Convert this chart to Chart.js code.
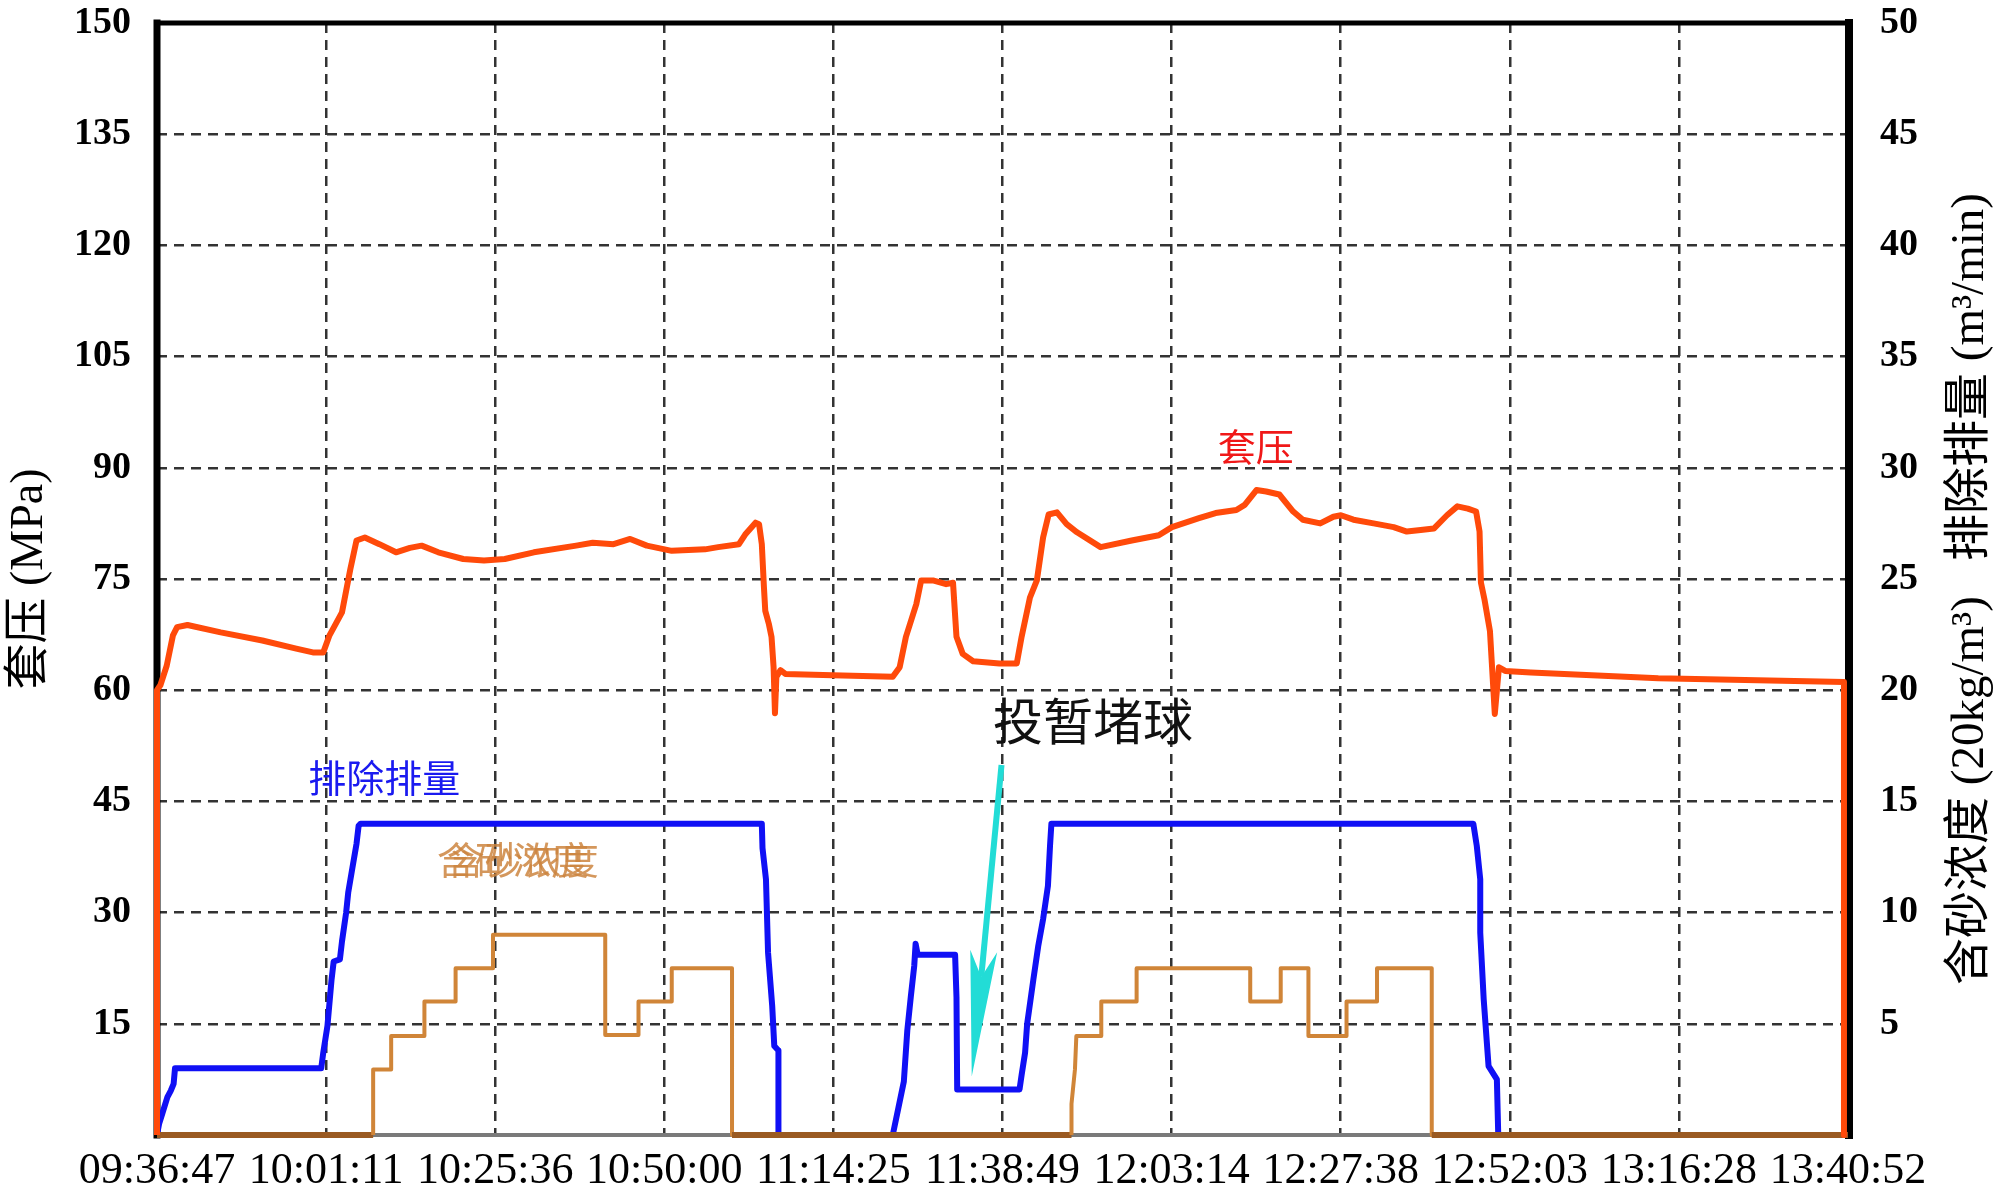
<!DOCTYPE html>
<html>
<head>
<meta charset="utf-8">
<script src="https://cdn.jsdelivr.net/npm/chart.js@4/dist/chart.umd.min.js"></script>
<style>
    body { margin: 0; background: #fff; }
    canvas { display: block; }
</style>
</head>
<body>
<canvas id="pressureChart" width="2000" height="1196"></canvas>
<script>
// x values are minutes after 09:36:47
const spanMinutes = 244.083;
const xTickLabels = ['09:36:47', '10:01:11', '10:25:36', '10:50:00', '11:14:25', '11:38:49',
    '12:03:14', '12:27:38', '12:52:03', '13:16:28', '13:40:52'];

// 套压 (MPa, left axis)
const pressureT = [0, 0, 0.5, 1.4, 2.3, 2.9, 4.4, 9.2, 15.2, 20.1, 22.5, 24.0, 24.9, 26.7, 27.9, 28.8,
    30.0, 32.1, 34.5, 36.5, 38.2, 40.6, 44.2, 47.2, 50.2, 54.4, 60.5, 62.9, 65.9, 68.3, 70.7, 74.3,
    79.1, 81.0, 84.0, 84.9, 86.4, 86.9, 87.3, 87.6, 87.8, 88.3, 88.7, 89.0, 89.2, 89.4, 90.0, 90.7,
    97.5, 106.2, 107.2, 108.1, 109.6, 110.3, 112.0, 113.9, 114.9, 115.4, 116.3, 117.8, 121.6, 124.1,
    124.8, 126.0, 127.0, 127.9, 128.7, 129.9, 131.3, 132.8, 136.2, 140.7, 144.6, 146.5, 150.4, 152.8,
    155.8, 157.0, 158.7, 160.1, 162.0, 164.0, 165.4, 167.9, 169.8, 170.9, 172.7, 175.6, 178.5, 180.4,
    182.4, 184.3, 186.2, 187.7, 189.2, 190.4, 190.9, 191.1, 191.6, 192.4, 193.1, 193.7, 194.6, 198.3,
    216.7, 243.5, 243.5];
const pressureV = [0, 60, 60.7, 63.3, 67.4, 68.5, 68.8, 67.8, 66.7, 65.6, 65.1, 65.1, 67.4, 70.5, 76.3, 80.2,
    80.6, 79.7, 78.6, 79.2, 79.5, 78.6, 77.7, 77.5, 77.7, 78.6, 79.5, 79.9, 79.7, 80.4, 79.5, 78.8,
    79.0, 79.3, 79.7, 81.0, 82.6, 82.4, 79.7, 74.0, 70.7, 69.0, 67.2, 63.1, 56.9, 61.8, 62.7, 62.2,
    62.0, 61.8, 63.1, 67.2, 71.6, 74.8, 74.8, 74.3, 74.5, 67.2, 64.9, 63.9, 63.6, 63.6,
    67.2, 72.5, 74.8, 80.6, 83.7, 84.0, 82.4, 81.3, 79.3, 80.2, 80.9, 82.0, 83.2, 83.9,
    84.3, 85.0, 87.0, 86.8, 86.4, 84.1, 83.0, 82.5, 83.4, 83.6, 83.0, 82.5, 82.0, 81.4,
    81.6, 81.8, 83.6, 84.8, 84.5, 84.1, 81.4, 74.5, 72.3, 68.0, 56.8, 63.1, 62.6, 62.4,
    61.6, 61.1, 0];

// 排除排量 (m³/min, right axis)
const rateT = [0, 0.3, 0.8, 1.5, 2.0, 2.4, 2.6, 23.7, 24.0, 24.6, 25.2, 25.5, 26.4, 26.7, 27.3, 27.6,
    28.2, 28.8, 29.1, 29.4, 87.3, 87.4, 87.9, 88.2, 88.8, 89.1, 89.7, 89.7, 106.2, 107.0, 107.8,
    108.3, 108.8, 109.3, 109.5, 109.8, 115.2, 115.4, 115.5, 124.5, 124.8, 125.3, 125.6, 126.5, 127.2,
    127.9, 128.6, 128.9, 129.1, 190.0, 190.5, 191.0, 191.0, 191.5, 192.2, 193.4, 193.6, 244.08];
const rateV = [0, 0.5, 1.0, 1.7, 2.0, 2.3, 3.0, 3.0, 3.7, 4.9, 7.0, 7.8, 7.9, 8.7, 10.0, 10.9,
    12.0, 13.1, 13.9, 14.0, 14.0, 12.9, 11.5, 8.2, 5.8, 4.0, 3.8, 0, 0, 1.2, 2.4,
    4.7, 6.2, 7.6, 8.6, 8.1, 8.1, 6.2, 2.05, 2.05, 2.7, 3.7, 5.0, 7.0, 8.5,
    9.7, 11.2, 13.0, 14.0, 14.0, 13.0, 11.5, 9.1, 6.1, 3.1, 2.5, 0, 0];

// 含砂浓度 (20kg/m³, right axis)
const sandT = [0, 31.2, 31.2, 33.8, 33.8, 38.6, 38.6, 43.1, 43.1, 48.5, 48.5, 64.7, 64.7, 69.5, 69.5,
    74.3, 74.3, 83.0, 83.0, 132.0, 132.0, 132.5, 132.7, 136.3, 136.3, 141.4, 141.4, 157.8, 157.8,
    162.2, 162.2, 166.2, 166.2, 171.7, 171.7, 176.1, 176.1, 184.0, 184.0, 244.08];
const sandV = [0, 0, 2.95, 2.95, 4.45, 4.45, 6.0, 6.0, 7.5, 7.5, 9.0, 9.0, 4.5, 4.5, 6.0,
    6.0, 7.5, 7.5, 0, 0, 1.4, 2.95, 4.45, 4.45, 6.0, 6.0, 7.5, 7.5, 6.0,
    6.0, 7.5, 7.5, 4.45, 4.45, 6.0, 6.0, 7.5, 7.5, 0, 0];

function toPoints(ts, vs) {
    return ts.map((t, i) => ({ x: t, y: vs[i] }));
}

// true when a segment lies on the zero line
const onZero = c => c.p0.parsed.y === 0 && c.p1.parsed.y === 0;

const serif = '"Liberation Serif", "Noto Sans CJK SC", serif';

// fixed box for a y axis, no extra room for the end labels
function fixYAxis(width) {
    return scale => {
        scale.width = width;
        scale.paddingTop = 0;
        scale.paddingBottom = 0;
    };
}

// frame around the plot area, drawn under the curves
const framePlugin = {
    id: 'frame',
    beforeDatasetsDraw(chart) {
        const { ctx, chartArea: a } = chart;
        ctx.save();
        ctx.lineCap = 'square';
        ctx.strokeStyle = '#7a7a7a';
        ctx.lineWidth = 4;
        ctx.beginPath(); ctx.moveTo(a.left, a.bottom); ctx.lineTo(a.right, a.bottom); ctx.stroke();
        ctx.strokeStyle = '#000';
        ctx.lineWidth = 5;
        ctx.beginPath(); ctx.moveTo(a.left, a.top); ctx.lineTo(a.right, a.top); ctx.stroke();
        ctx.lineWidth = 7;
        ctx.beginPath(); ctx.moveTo(a.left, a.top); ctx.lineTo(a.left, a.bottom); ctx.stroke();
        ctx.lineWidth = 8;
        ctx.beginPath(); ctx.moveTo(a.right + 1, a.top); ctx.lineTo(a.right + 1, a.bottom); ctx.stroke();
        ctx.restore();
    }
};

// curve labels, the arrow for 投暂堵球 and the right-hand axis title
const notesPlugin = {
    id: 'notes',
    afterDatasetsDraw(chart) {
        const { ctx, scales, chartArea: a } = chart;
        const px = t => scales.x.getPixelForValue(t);
        const py = v => scales.y.getPixelForValue(v);
        const label = (text, t, v, color, size) => {
            ctx.font = size + 'px "Noto Sans CJK SC"';
            ctx.fillStyle = color;
            ctx.textAlign = 'center';
            ctx.textBaseline = 'middle';
            ctx.fillText(text, px(t), py(v));
        };
        ctx.save();
        label('套压', 158.6, 92.9, '#f01818', 38);
        label('排除排量', 32.8, 48.2, '#1a1af0', 38);
        label('含砂浓度', 51.4, 37.1, 'rgba(205,133,63,0.85)', 38);
        label('含砂浓度', 52.8, 37.1, 'rgba(205,133,63,0.85)', 38);
        label('投暂堵球', 135.1, 55.8, '#111', 50);

        // arrow
        const x0 = px(121.9), y0 = py(49.9);
        const x1 = px(117.6), y1 = py(7.9);
        const len = Math.hypot(x1 - x0, y1 - y0);
        const ux = (x1 - x0) / len, uy = (y1 - y0) / len;
        const nx = -uy, ny = ux;
        const head = 126, half = 13.5, notch = 100;
        ctx.strokeStyle = '#22dcd6';
        ctx.fillStyle = '#22dcd6';
        ctx.lineWidth = 6;
        ctx.beginPath();
        ctx.moveTo(x0, y0);
        ctx.lineTo(x1 - ux * notch, y1 - uy * notch);
        ctx.stroke();
        ctx.beginPath();
        ctx.moveTo(x1, y1);
        ctx.lineTo(x1 - ux * head + nx * half, y1 - uy * head + ny * half);
        ctx.lineTo(x1 - ux * notch, y1 - uy * notch);
        ctx.lineTo(x1 - ux * head - nx * half, y1 - uy * head - ny * half);
        ctx.closePath();
        ctx.fill();

        // right axis title, reading bottom to top
        ctx.translate(1971, (a.top + a.bottom) / 2 + 10);
        ctx.rotate(-Math.PI / 2);
        ctx.font = '47px ' + serif;
        ctx.fillStyle = '#000';
        ctx.textAlign = 'center';
        ctx.textBaseline = 'middle';
        ctx.fillText('含砂浓度 (20kg/m³)   排除排量 (m³/min)', 0, 0);
        ctx.restore();
    }
};

const ctx = document.getElementById('pressureChart').getContext('2d');
const chart = new Chart(ctx, {
    type: 'line',
    data: {
        datasets: [
            {
                label: '套压',
                data: toPoints(pressureT, pressureV),
                yAxisID: 'y',
                borderColor: '#ff4a0a',
                borderWidth: 6,
                order: 1
            },
            {
                label: '含砂浓度',
                data: toPoints(sandT, sandV),
                yAxisID: 'y2',
                borderColor: '#d08538',
                borderWidth: 4,
                segment: {
                    borderWidth: c => onZero(c) ? 6 : 4,
                    borderColor: c => onZero(c) ? '#9a5a22' : '#d08538'
                },
                order: 2
            },
            {
                label: '排除排量',
                data: toPoints(rateT, rateV),
                yAxisID: 'y2',
                borderColor: '#1010f5',
                borderWidth: 6,
                segment: {
                    borderWidth: c => onZero(c) ? 2 : 6
                },
                order: 3
            }
        ]
    },
    options: {
        responsive: false,
        animation: false,
        devicePixelRatio: 1,
        layout: { padding: { top: 23 } },
        elements: {
            point: { radius: 0 },
            line: { tension: 0, borderJoinStyle: 'round', fill: false }
        },
        datasets: { line: { clip: false } },
        plugins: {
            legend: { display: false },
            tooltip: { enabled: false }
        },
        scales: {
            x: {
                type: 'linear',
                min: 0,
                max: spanMinutes,
                afterBuildTicks: axis => {
                    axis.ticks = xTickLabels.map((_, i) => ({ value: i * spanMinutes / 10 }));
                },
                afterFit: scale => { scale.height = 61; },
                ticks: {
                    autoSkip: false,
                    maxRotation: 0,
                    padding: 10,
                    color: '#000',
                    font: { family: serif, size: 44 },
                    callback: (value, index) => xTickLabels[index]
                },
                grid: {
                    drawTicks: false,
                    color: '#333',
                    lineWidth: 2.5
                },
                border: { display: false, dash: [10, 7] }
            },
            y: {
                position: 'left',
                min: 0,
                max: 150,
                afterFit: fixYAxis(157),
                ticks: {
                    stepSize: 15,
                    padding: 26,
                    color: '#000',
                    font: { family: serif, size: 38, weight: 'bold' },
                    callback: value => value === 0 ? '' : value
                },
                grid: { drawTicks: false, color: '#333', lineWidth: 2.5 },
                border: { display: false, dash: [10, 7] },
                title: {
                    display: true,
                    text: '套压 (MPa)',
                    color: '#000',
                    padding: 2,
                    font: { family: serif, size: 46 }
                }
            },
            y2: {
                position: 'right',
                min: 0,
                max: 50,
                afterFit: fixYAxis(152),
                ticks: {
                    stepSize: 5,
                    padding: 24,
                    color: '#000',
                    font: { family: serif, size: 38, weight: 'bold' },
                    callback: value => value === 0 ? '' : value
                },
                grid: { display: false },
                border: { display: false }
            }
        }
    },
    plugins: [framePlugin, notesPlugin]
});
</script>
</body>
</html>
